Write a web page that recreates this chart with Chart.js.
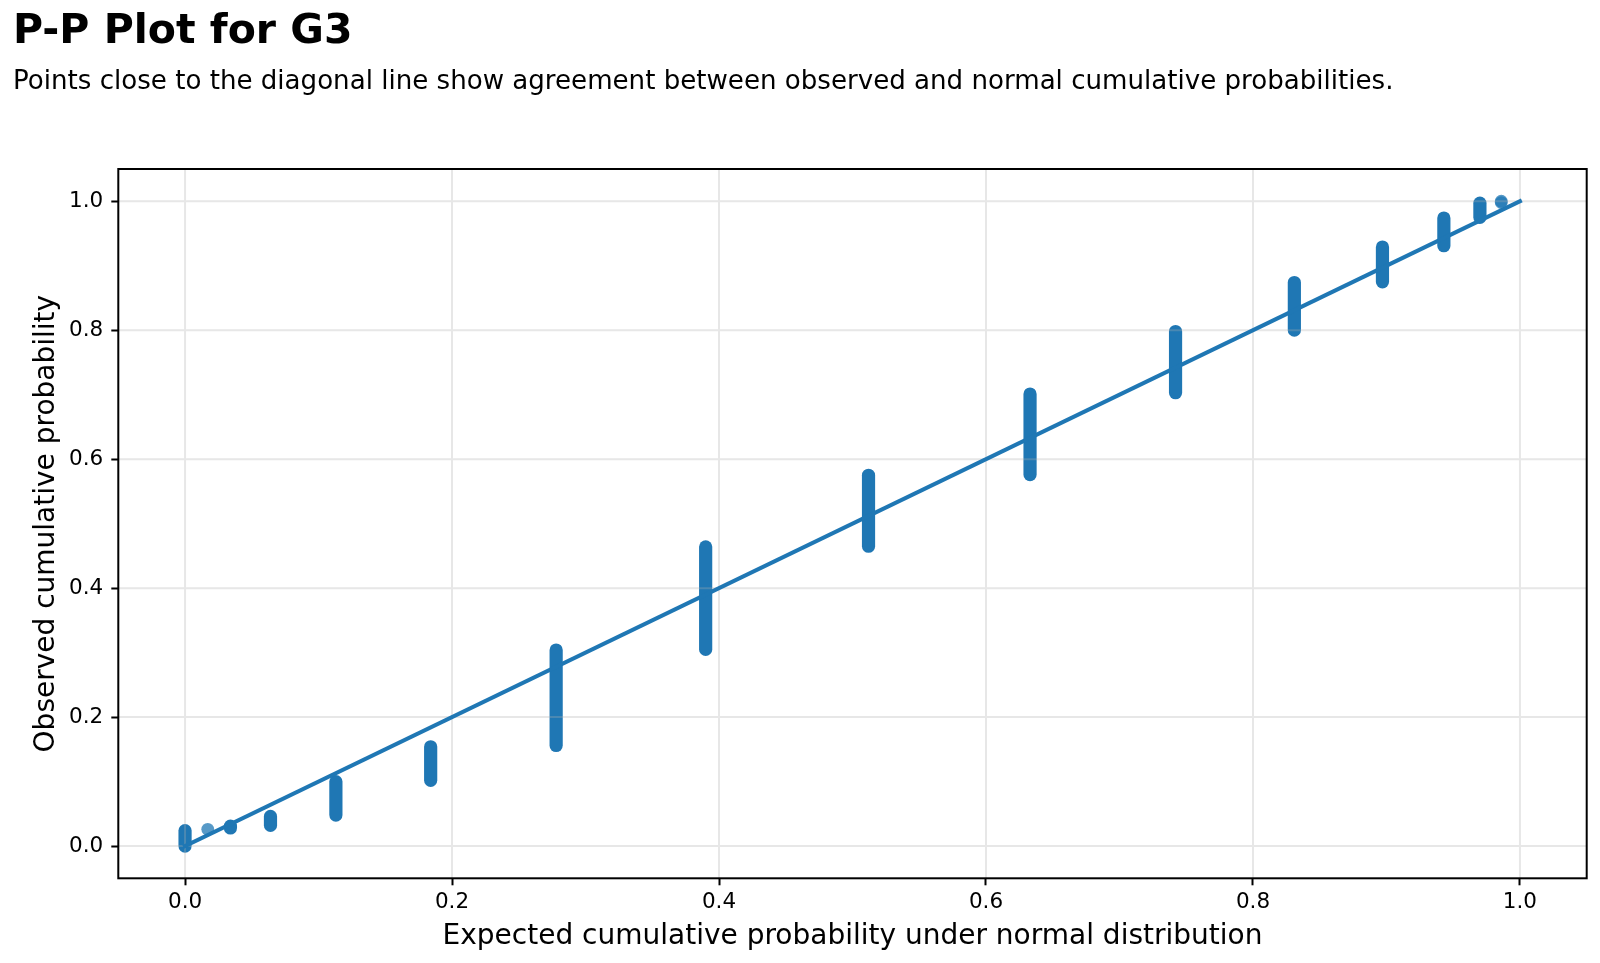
<!DOCTYPE html>
<html lang="en">
<head>
    <meta charset="UTF-8">
    <title>P-P Plot for G3</title>
    <script src="https://cdn.jsdelivr.net/npm/chart.js"></script>
    <style>
        body { margin: 0; background: #fff; overflow: hidden; }
        canvas { display: block; }
    </style>
</head>
<body>
    <canvas id="ppChart" width="1600" height="963"></canvas>

    <script>
        // G3 groups and their positions on the P-P plot
        const g3Values     = ['0-1', '5', '6', '7', '8', '9', '10', '11', '12', '13', '14', '15', '16', '17', '18', '19'];
        const expectedProb = [0.000, 0.017, 0.034, 0.064, 0.113, 0.184, 0.278, 0.390, 0.512, 0.633, 0.742, 0.831, 0.897, 0.943, 0.970, 0.986];
        const observedLow  = [0.000, 0.026, 0.028, 0.032, 0.048, 0.102, 0.156, 0.305, 0.465, 0.576, 0.703, 0.800, 0.875, 0.931, 0.975, 0.998];
        const observedHigh = [0.024, 0.026, 0.031, 0.046, 0.100, 0.154, 0.304, 0.464, 0.575, 0.701, 0.798, 0.874, 0.929, 0.974, 0.997, 1.000];
        const pointCounts  = [16, 1, 3, 10, 35, 35, 97, 104, 72, 82, 63, 49, 36, 29, 15, 2];

        const diagonalX = [0, 1];
        const diagonalY = [0, 1];

        const xTicks = [0.0, 0.2, 0.4, 0.6, 0.8, 1.0];
        const yTicks = [0.0, 0.2, 0.4, 0.6, 0.8, 1.0];

        const BLUE = '#1f77b4';
        const FONT = "'DejaVu Sans', sans-serif";

        // diagonal reference line (dataset 0, drawn last = on top)
        const datasets = [{
            label: 'diagonal',
            data: diagonalX.map((x, i) => ({ x: x, y: diagonalY[i] })),
            showLine: true,
            borderColor: BLUE,
            borderWidth: 4,
            borderCapStyle: 'square',
            pointRadius: 0
        }];

        // groups with only one or two points: plain translucent markers
        const sparse = [];
        g3Values.forEach((g, i) => {
            if (pointCounts[i] > 2) return;
            sparse.push({ x: expectedProb[i], y: observedLow[i] });
            if (pointCounts[i] === 2) sparse.push({ x: expectedProb[i], y: observedHigh[i] });
        });
        datasets.push({
            label: 'sparse',
            data: sparse,
            pointRadius: 6.4,
            pointBorderWidth: 0,
            pointBackgroundColor: 'rgba(31,119,180,0.75)',
            showLine: false
        });

        // dense groups: the overlapping markers form a rounded vertical bar
        g3Values.forEach((g, i) => {
            if (pointCounts[i] <= 2) return;
            datasets.push({
                label: 'G3 = ' + g,
                data: [{ x: expectedProb[i], y: observedLow[i] }, { x: expectedProb[i], y: observedHigh[i] }],
                showLine: true,
                borderColor: BLUE,
                borderWidth: 13.2,
                borderCapStyle: 'round',
                pointRadius: 0
            });
        });

        // grid is drawn over the markers, under the diagonal (like matplotlib)
        const gridOverlay = {
            id: 'gridOverlay',
            afterDatasetDraw(chart, args) {
                if (args.index !== 1) return;
                const { ctx, chartArea: a, scales } = chart;
                ctx.save();
                ctx.beginPath();
                ctx.rect(a.left, a.top, a.right - a.left, a.bottom - a.top);
                ctx.clip();
                ctx.strokeStyle = 'rgba(176,176,176,0.3)';
                ctx.lineWidth = 2;
                ctx.beginPath();
                xTicks.forEach(v => {
                    const px = scales.x.getPixelForValue(v);
                    ctx.moveTo(px, a.top);
                    ctx.lineTo(px, a.bottom);
                });
                yTicks.forEach(v => {
                    const py = scales.y.getPixelForValue(v);
                    ctx.moveTo(a.left, py);
                    ctx.lineTo(a.right, py);
                });
                ctx.stroke();
                ctx.restore();
            }
        };

        // frame + headings
        const decorations = {
            id: 'decorations',
            afterDraw(chart) {
                const { ctx, chartArea: a } = chart;
                ctx.save();
                ctx.strokeStyle = '#000';
                ctx.lineWidth = 2;
                ctx.strokeRect(a.left, a.top, a.right - a.left, a.bottom - a.top);

                ctx.fillStyle = '#000';
                ctx.textAlign = 'left';
                ctx.textBaseline = 'alphabetic';
                ctx.font = 'bold 41px ' + FONT;
                ctx.fillText('P-P Plot for G3', 13, 43);
                ctx.font = '26.1px ' + FONT;
                ctx.fillText('Points close to the diagonal line show agreement between observed and normal cumulative probabilities.', 13, 89);
                ctx.restore();
            }
        };

        const tickOpts = {
            color: '#000',
            font: { family: FONT, size: 21.5 },
            callback: v => Number(v).toFixed(1)
        };
        const gridOpts = {
            drawOnChartArea: false,
            drawTicks: true,
            tickLength: 7,
            tickColor: '#000',
            tickWidth: 2
        };

        const ctx = document.getElementById('ppChart').getContext('2d');
        new Chart(ctx, {
            type: 'scatter',
            data: { datasets: datasets },
            options: {
                responsive: false,
                animation: false,
                devicePixelRatio: 1,
                layout: { padding: { top: 169, right: 13.3, left: 0, bottom: 0 } },
                plugins: {
                    legend: { display: false },
                    tooltip: { enabled: false }
                },
                scales: {
                    x: {
                        type: 'linear',
                        min: -0.05,
                        max: 1.05,
                        afterBuildTicks: s => { s.ticks = xTicks.map(v => ({ value: v })); },
                        afterFit: s => { s.height = 963 - 878.3; },
                        ticks: Object.assign({ padding: 4.4, maxRotation: 0 }, tickOpts),
                        grid: gridOpts,
                        border: { display: false },
                        title: {
                            display: true,
                            text: 'Expected cumulative probability under normal distribution',
                            color: '#000',
                            font: { family: FONT, size: 28 },
                            padding: { top: 0, bottom: 9 }
                        }
                    },
                    y: {
                        type: 'linear',
                        min: -0.05,
                        max: 1.05,
                        afterBuildTicks: s => { s.ticks = yTicks.map(v => ({ value: v })); },
                        afterFit: s => { s.width = 118.3; },
                        ticks: Object.assign({ padding: 8 }, tickOpts),
                        grid: gridOpts,
                        border: { display: false },
                        title: {
                            display: true,
                            text: 'Observed cumulative probability',
                            color: '#000',
                            font: { family: FONT, size: 28 },
                            padding: { top: 29.8, bottom: 0 }
                        }
                    }
                }
            },
            plugins: [gridOverlay, decorations]
        });
    </script>
</body>
</html>
